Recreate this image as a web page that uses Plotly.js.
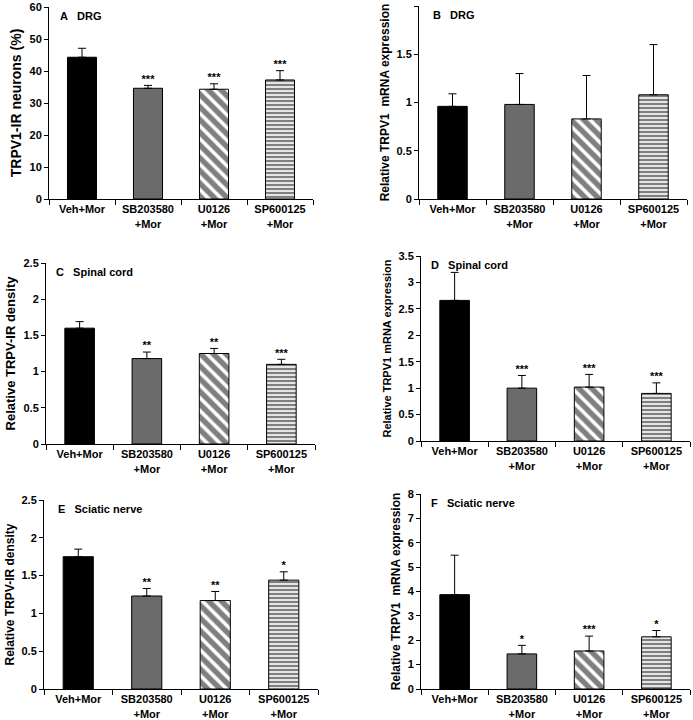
<!DOCTYPE html>
<html>
<head>
<meta charset="utf-8">
<script src="https://cdn.plot.ly/plotly-3.0.1.min.js"></script>
<style>html,body{margin:0;padding:0;background:#fff;}#chart{width:693px;height:720px;}</style>
</head>
<body>
<div id="chart"></div>
<script>
// ---- data ----
const categories = ['Veh+Mor', 'SB203580<br>+Mor', 'U0126<br>+Mor', 'SP600125<br>+Mor'];

const drgNeurons = [44.3, 34.6, 34.3, 37.2];
const drgNeuronsErr = [2.8, 0.9, 1.7, 2.9];
const drgNeuronsStars = ['', '***', '***', '***'];

const drgMrna = [0.96, 0.98, 0.83, 1.08];
const drgMrnaErr = [0.13, 0.32, 0.45, 0.52];
const drgMrnaStars = ['', '', '', ''];

const cordDensity = [1.60, 1.18, 1.25, 1.10];
const cordDensityErr = [0.09, 0.09, 0.07, 0.07];
const cordDensityStars = ['', '**', '**', '***'];

const cordMrna = [2.66, 1.00, 1.02, 0.90];
const cordMrnaErr = [0.53, 0.24, 0.24, 0.20];
const cordMrnaStars = ['', '***', '***', '***'];

const nerveDensity = [1.75, 1.23, 1.17, 1.44];
const nerveDensityErr = [0.10, 0.10, 0.12, 0.11];
const nerveDensityStars = ['', '**', '**', '*'];

const nerveMrna = [3.87, 1.44, 1.56, 2.14];
const nerveMrnaErr = [1.62, 0.35, 0.61, 0.26];
const nerveMrnaStars = ['', '*', '***', '*'];

// ---- styles (per category) ----
const barColors = ['#000000', '#6b6b6b', '#ffffff', '#ffffff'];
const barShapes = ['', '', '\\', '-'];
const barPatternSize = [8, 8, 9, 4];
const barSolidity = [0.5, 0.5, 0.6, 0.6];

const FONT = 'Liberation Sans, Arial, sans-serif';
const panels = [
  {vals: drgNeurons, err: drgNeuronsErr, stars: drgNeuronsStars, letter: 'A', name: 'DRG', lx: 0.034,
   ytitle: 'TRPV1-IR neurons (%)', tsize: 14, range: [0, 60], dtick: 10,
   dx: [49, 313], dy: [7, 199]},
  {vals: drgMrna, err: drgMrnaErr, stars: drgMrnaStars, letter: 'B', name: 'DRG', lx: 0.045,
   ytitle: 'Relative TRPV1  mRNA expression', tsize: 12, range: [0, 2], dtick: 0.5,
   dx: [419, 687], dy: [6, 199]},
  {vals: cordDensity, err: cordDensityErr, stars: cordDensityStars, letter: 'C', name: 'Spinal cord', lx: 0.03,
   ytitle: 'Relative TRPV-IR density', tsize: 13, range: [0, 2.5], dtick: 0.5,
   dx: [46, 315], dy: [263, 444]},
  {vals: cordMrna, err: cordMrnaErr, stars: cordMrnaStars, letter: 'D', name: 'Spinal cord', lx: 0.03,
   ytitle: 'Relative TRPV1 mRNA expression', tsize: 11, range: [0, 3.5], dtick: 0.5,
   dx: [421, 690], dy: [256, 441]},
  {vals: nerveDensity, err: nerveDensityErr, stars: nerveDensityStars, letter: 'E', name: 'Sciatic nerve', lx: 0.045,
   ytitle: 'Relative TRPV-IR density', tsize: 12, range: [0, 2.5], dtick: 0.5,
   dx: [44, 318], dy: [500, 689]},
  {vals: nerveMrna, err: nerveMrnaErr, stars: nerveMrnaStars, letter: 'F', name: 'Sciatic nerve', lx: 0.03,
   ytitle: 'Relative TRPV1  mRNA expression', tsize: 12, range: [0, 8], dtick: 1,
   dx: [421, 690], dy: [494, 689]}
];

const W = 693, H = 720;
const traces = [];
const layout = {
  width: W, height: H,
  margin: {l: 0, r: 0, t: 0, b: 0},
  paper_bgcolor: '#fff', plot_bgcolor: '#fff',
  showlegend: false,
  barmode: 'overlay',
  bargap: 0.56,
  font: {family: FONT, size: 11, color: '#000', weight: 'bold'},
  annotations: []
};

panels.forEach((p, i) => {
  const n = i + 1;
  const xa = 'x' + (n === 1 ? '' : n), ya = 'y' + (n === 1 ? '' : n);
  categories.forEach((c, k) => {
    const marker = {color: barColors[k], line: {color: '#000', width: 1}};
    if (barShapes[k]) {
      marker.pattern = {shape: barShapes[k], fgcolor: '#000000', bgcolor: '#ffffff',
                        fillmode: 'overlay', size: barPatternSize[k], solidity: barSolidity[k]};
    }
    traces.push({
      type: 'bar', x: [c], y: [p.vals[k]], xaxis: xa, yaxis: ya,
      marker: marker,
      error_y: {type: 'data', symmetric: false, array: [p.err[k]], arrayminus: [0],
                color: '#000', thickness: 1, width: 4},
      hoverinfo: 'skip'
    });
  });
  traces.push({
    type: 'scatter', mode: 'text', x: categories,
    y: p.vals.map((v, k) => v + p.err[k]), text: p.stars,
    textposition: 'top center',
    textfont: {family: FONT, size: 11, color: '#000', weight: 'bold'},
    xaxis: xa, yaxis: ya, hoverinfo: 'skip', cliponaxis: false
  });
  const xk = 'xaxis' + (n === 1 ? '' : n), yk = 'yaxis' + (n === 1 ? '' : n);
  layout[xk] = {
    domain: [p.dx[0] / W, p.dx[1] / W], anchor: ya,
    type: 'category', categoryorder: 'array', categoryarray: categories,
    showline: true, linecolor: '#000', linewidth: 1,
    ticks: 'outside', tickson: 'boundaries', ticklen: 5, tickcolor: '#000',
    showgrid: false, zeroline: false, fixedrange: true,
    tickfont: {family: FONT, size: 11, color: '#000', weight: 'bold'}
  };
  layout[yk] = {
    domain: [1 - p.dy[1] / H, 1 - p.dy[0] / H], anchor: xa,
    range: p.range, dtick: p.dtick, tick0: 0,
    showline: true, linecolor: '#000', linewidth: 1,
    ticks: 'outside', ticklen: 4, tickcolor: '#000',
    showgrid: false, zeroline: false, fixedrange: true,
    tickfont: {family: FONT, size: 11, color: '#000', weight: 'bold'},
    title: {text: p.ytitle, standoff: 4, font: {family: FONT, size: p.tsize, color: '#000', weight: 'bold'}}
  };
  layout.annotations.push({
    xref: xa + ' domain', yref: ya + ' domain', x: p.lx, y: 1, xanchor: 'left', yanchor: 'top',
    yshift: -1, showarrow: false, text: p.letter + '&nbsp;&nbsp;&nbsp;' + p.name,
    font: {family: FONT, size: 11, color: '#000', weight: 'bold'}
  });
});

Plotly.newPlot('chart', traces, layout, {staticPlot: true, displayModeBar: false});
</script>
</body>
</html>
